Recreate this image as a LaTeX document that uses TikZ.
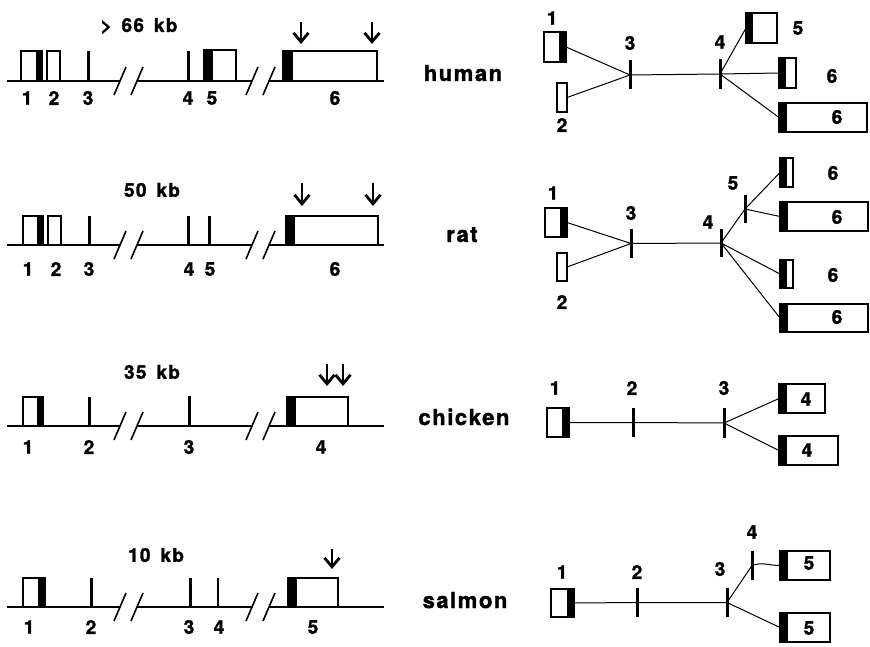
\documentclass[tikz,border=0pt]{standalone}
\usepackage{fontspec}
\setmainfont[BoldFeatures={FakeBold=1.6}]{TeX Gyre Heros}
\newfontfamily\spaced[LetterSpace=7,WordSpace=1.5,BoldFeatures={FakeBold=1.6}]{TeX Gyre Heros}
\usetikzlibrary{arrows.meta}

\begin{document}
\begin{tikzpicture}[
        x=0.5pt, y=-0.5pt,
        num/.style={font=\bfseries\fontsize{9.5}{10}\selectfont, inner sep=0pt},
        kb/.style={font=\spaced\bfseries\fontsize{9.5}{10}\selectfont, inner sep=0pt},
        species/.style={font=\spaced\bfseries\fontsize{11}{12}\selectfont, inner sep=0pt, anchor=base},
        gene/.style={line width=1pt},
        exonbox/.style={draw, line width=1pt},
        exontick/.style={line width=1.5pt},
        breakmark/.style={line width=0.8pt},
        polyA/.style={
            line width=1.4pt,
            -{Straight Barb[length=4.5pt,width=7.5pt]}
        },
        ex/.style={
            draw,
            line width=1pt,
            inner sep=0pt,
            outer sep=0pt,
            minimum height=14.5pt,
            minimum width=#1
        },
        capR/.style={path picture={\fill ([xshift=-#1]path picture bounding box.north east) rectangle (path picture bounding box.south east);}},
        capR/.default=3.5pt,
        capL/.style={path picture={\fill (path picture bounding box.north west) rectangle ([xshift=#1]path picture bounding box.south west);}},
        capL/.default=3.5pt,
        bar/.style={fill, inner sep=0pt, minimum width=1.5pt, minimum height=14.5pt},
        splice/.style={line width=0.5pt}
    ]
    \useasboundingbox (0,0) rectangle (870,646);

    % gene backbones with the two breaks
    \foreach \y in {81,245,426,607} {
        \draw[gene] (7,\y) -- (120,\y) (137,\y) -- (252,\y) (269,\y) -- (384,\y);
        \foreach \c in {120,137,252,269}
            \draw[breakmark] (\c-6,\y+14) -- (\c+6,\y-14);
    }

    %%% human
    \node[kb] (hum-kb) at (139,26) {> 66 kb};
    \fill (36,51) rectangle (42,81);
    \draw[exonbox] (21,51) rectangle (42,81);
    \draw[exonbox] (47,51) rectangle (60,81);
    \draw[exontick] (88,51) -- (88,81);
    \draw[exontick] (188,51) -- (188,81);
    \fill (204,50) rectangle (213,81);
    \draw[exonbox] (204,50) rectangle (236,81);
    \fill (283,51) rectangle (293,81);
    \draw[exonbox] (283,51) rectangle (377,81);
    \draw[polyA] (301,22) -- (301,44);
    \draw[polyA] (372,22) -- (372,44);
    \node[num] (hum-g1) at (27,98) {1};
    \node[num] (hum-g2) at (54,98) {2};
    \node[num] (hum-g3) at (88,98) {3};
    \node[num] (hum-g4) at (188,98) {4};
    \node[num] (hum-g5) at (212,98) {5};
    \node[num] (hum-g6) at (335,98) {6};

    \node[species] (human) at (463,81) {human};

    \node[ex=11pt, minimum height=15pt, capR] (h1) at (555,47) {};
    \node[ex=5pt] (h2) at (562,97.5) {};
    \node[bar] (h3) at (630,75) {};
    \node[bar, minimum height=15pt] (h4) at (720,74) {};
    \node[ex=15.5pt, minimum height=15pt, capL] (h5) at (761.5,28) {};
    \node[ex=8.5pt, minimum height=15pt, capL] (h6a) at (787.5,73) {};
    \node[ex=44pt, capL=4pt] (h6b) at (823,117.5) {};
    \draw[splice] (h1.east) -- (h3.center) (h2.east) -- (h3.center);
    \draw[splice] (h3.center) -- (h4.center);
    \draw[splice] (h4.center) -- (h5.west) (h4.center) -- (h6a.west) (h4.center) -- (h6b.west);
    \node[num] (h1-n) at (552,18) {1};
    \node[num] (h2-n) at (562,125) {2};
    \node[num] (h3-n) at (630,43) {3};
    \node[num] (h4-n) at (720,42) {4};
    \node[num] (h5-n) at (798,28) {5};
    \node[num] (h6a-n) at (832,76) {6};
    \node[num] (h6b-n) at (837,117) {6};

    %%% rat
    \node[kb] (rat-kb) at (152,190) {50 kb};
    \fill (37,216) rectangle (43,245);
    \draw[exonbox] (23,216) rectangle (43,245);
    \draw[exonbox] (48,216) rectangle (61,245);
    \draw[exontick] (89,216) -- (89,245);
    \draw[exontick] (188,216) -- (188,245);
    \draw[exontick] (209,216) -- (209,245);
    \fill (286,216) rectangle (295,245);
    \draw[exonbox] (286,216) rectangle (378,245);
    \draw[polyA] (302,183) -- (302,206);
    \draw[polyA] (373,183) -- (373,206);
    \node[num] (rat-g1) at (28,269) {1};
    \node[num] (rat-g2) at (56,269) {2};
    \node[num] (rat-g3) at (89,269) {3};
    \node[num] (rat-g4) at (189,269) {4};
    \node[num] (rat-g5) at (210,269) {5};
    \node[num] (rat-g6) at (335,269) {6};

    \node[species] (rat) at (462,242) {rat};

    \node[ex=11pt, capR] (r1) at (556,222.5) {};
    \node[ex=5pt, minimum height=14pt] (r2) at (562,267) {};
    \node[bar] (r3) at (631,243.5) {};
    \node[bar, minimum height=14pt] (r4) at (721,243) {};
    \node[bar, minimum height=14pt] (r5) at (745,209) {};
    \node[ex=6.5pt, capL] (r6a) at (786.5,172.5) {};
    \node[ex=44pt, capL=4pt] (r6b) at (824,216.5) {};
    \node[ex=6.5pt, minimum height=14pt, capL] (r6c) at (786.5,274) {};
    \node[ex=44pt, minimum height=14pt, capL=4pt] (r6d) at (824,318) {};
    \draw[splice] (r1.east) -- (r3.center) (r2.east) -- (r3.center);
    \draw[splice] (r3.center) -- (r4.center) -- (r5.center);
    \draw[splice] (r5.center) -- (r6a.west) (r5.center) -- (r6b.west);
    \draw[splice] (r4.center) -- (r6c.west) (r4.center) -- (r6d.west);
    \node[num] (r1-n) at (553,193) {1};
    \node[num] (r2-n) at (562,302) {2};
    \node[num] (r3-n) at (631,213) {3};
    \node[num] (r4-n) at (708,222) {4};
    \node[num] (r5-n) at (733,183) {5};
    \node[num] (r6a-n) at (833,173) {6};
    \node[num] (r6b-n) at (837,217) {6};
    \node[num] (r6c-n) at (833,275) {6};
    \node[num] (r6d-n) at (837,317) {6};

    %%% chicken
    \node[kb] (chk-kb) at (152,372) {35 kb};
    \draw[line width=1.4pt] (137,426) -- (252,426);
    \fill (37,397) rectangle (43,426);
    \draw[exonbox] (23,397) rectangle (43,426);
    \draw[exontick] (89,397) -- (89,426);
    \draw[exontick] (189,396) -- (189,426);
    \fill (287,397) rectangle (296,426);
    \draw[exonbox] (287,397) rectangle (348,426);
    \draw[polyA] (327,364) -- (327,386);
    \draw[polyA] (343,364) -- (343,386);
    \node[num] (chk-g1) at (28,447) {1};
    \node[num] (chk-g2) at (89,447) {2};
    \node[num] (chk-g3) at (189,447) {3};
    \node[num] (chk-g4) at (321,447) {4};

    \node[species] (chicken) at (464,425) {chicken};

    \node[ex=11pt, capR] (c1) at (558,422.5) {};
    \node[bar] (c2) at (633,422.5) {};
    \node[bar, minimum height=15pt] (c3) at (724,423) {};
    \node[ex=23pt, capL=4pt] (c4a) at (802,398.5) {};
    \node[ex=29.5pt, capL=4pt] (c4b) at (808.5,450.5) {};
    \draw[splice] (c1.east) -- (c2.center) -- (c3.center);
    \draw[splice] (c3.center) -- (c4a.west) (c3.center) -- (c4b.west);
    \node[num] (c1-n) at (555,388) {1};
    \node[num] (c2-n) at (632,388) {2};
    \node[num] (c3-n) at (724,388) {3};
    \node[num] (c4a-n) at (806,399) {4};
    \node[num] (c4b-n) at (807,450) {4};

    %%% salmon
    \node[kb] (sal-kb) at (156,555) {10 kb};
    \fill (38,578) rectangle (45,607);
    \draw[exonbox] (23,578) rectangle (45,607);
    \draw[exontick] (91,578) -- (91,607);
    \draw[exontick] (190,578) -- (190,607);
    \draw[exontick, line width=1pt] (218,578) -- (218,607);
    \fill (288,578) rectangle (297,607);
    \draw[exonbox] (288,578) rectangle (338,607);
    \draw[polyA] (332,549) -- (332,569);
    \node[num] (sal-g1) at (29,627) {1};
    \node[num] (sal-g2) at (91,627) {2};
    \node[num] (sal-g3) at (189,627) {3};
    \node[num] (sal-g4) at (219,627) {4};
    \node[num] (sal-g5) at (313,627) {5};

    \node[species] (salmon) at (465,608) {salmon};

    \node[ex=11.5pt, minimum height=14pt, capR] (s1) at (562.5,603) {};
    \node[bar] (s2) at (637,602.5) {};
    \node[bar] (s3) at (727,602.5) {};
    \node[bar] (s4) at (752,565.5) {};
    \node[ex=25pt, capL=4pt] (s5a) at (805,565.5) {};
    \node[ex=25pt, capL=4pt] (s5b) at (805,627.5) {};
    \draw[splice] (s1.east) -- (s2.center) -- (s3.center);
    \draw[splice] (s3.center) -- (s4.center);
    \draw[splice] (s4.center) to[out=20, in=180] (s5a.west);
    \draw[splice] (s3.center) -- (s5b.west);
    \node[num] (s1-n) at (562,572) {1};
    \node[num] (s2-n) at (637,572) {2};
    \node[num] (s3-n) at (720,569) {3};
    \node[num] (s4-n) at (752,532) {4};
    \node[num] (s5a-n) at (809,563) {5};
    \node[num] (s5b-n) at (809,628) {5};
\end{tikzpicture}
\end{document}
